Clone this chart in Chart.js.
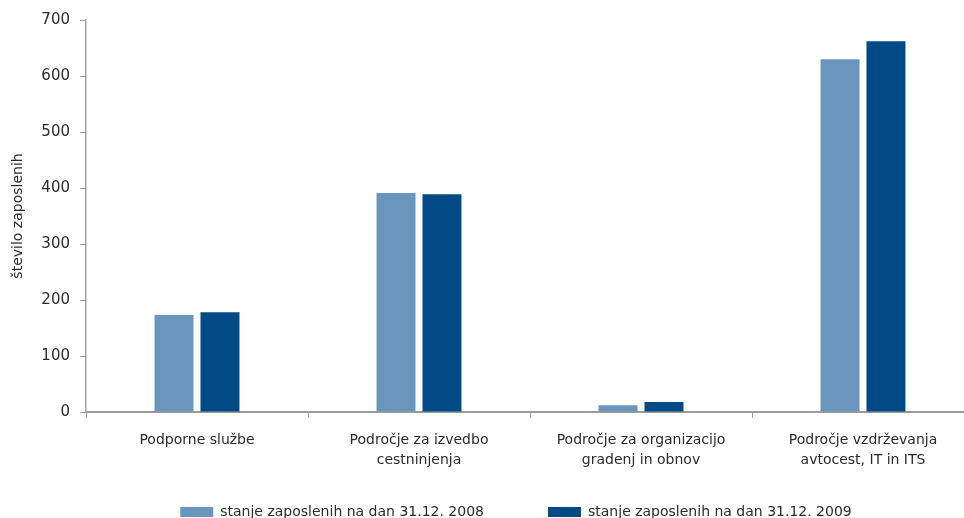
<!DOCTYPE html>
<html lang="sl">
<head>
<meta charset="UTF-8">
<title>Število zaposlenih</title>
<script src="https://cdn.jsdelivr.net/npm/chart.js@4.4.0/dist/chart.umd.min.js"></script>
<style>
  html, body { margin: 0; padding: 0; overflow: hidden; background: #fff; }
  #wrap { width: 976px; height: 565px; }
</style>
</head>
<body>
<div id="wrap"><canvas id="chart"></canvas></div>
<script>
  // data
  var categories = [
    'Podporne službe',
    ['Področje za izvedbo', 'cestninjenja'],
    ['Področje za organizacijo', 'gradenj in obnov'],
    ['Področje vzdrževanja', 'avtocest, IT in ITS']
  ];
  var seriesNames = ['stanje zaposlenih na dan 31.12. 2008', 'stanje zaposlenih na dan 31.12. 2009'];
  var values2008 = [173, 391, 12, 630];
  var values2009 = [178, 389, 18, 662];
  var yTitle = 'število zaposlenih';

  var axisGrey = '#a3a3a3';
  var textCol = '#2b2b2b';
  Chart.defaults.font.family = '"DejaVu Sans", sans-serif';
  Chart.defaults.font.size = 14;
  Chart.defaults.color = textCol;

  // legend needs wide gaps between items but sits close under the labels
  var legendNudge = {
    id: 'legendNudge',
    afterLayout: function (chart) {
      var lg = chart.legend;
      lg.top -= 36; lg.bottom -= 36;
      lg.left -= 14; lg.right -= 14;
    }
  };

  var ctx = document.getElementById('chart').getContext('2d');
  var chart = new Chart(ctx, {
    type: 'bar',
    data: {
      labels: categories,
      datasets: [{
        label: seriesNames[0],
        data: values2008,
        backgroundColor: '#6a95bd',
        borderWidth: 0,
        categoryPercentage: 0.414,
        barPercentage: 0.848
      }, {
        label: seriesNames[1],
        data: values2009,
        backgroundColor: '#014a86',
        borderWidth: 0,
        categoryPercentage: 0.414,
        barPercentage: 0.848
      }]
    },
    options: {
      responsive: true,
      maintainAspectRatio: false,
      animation: false,
      layout: { padding: { top: 20, right: 2, left: 0, bottom: 0 } },
      plugins: {
        tooltip: { enabled: false },
        legend: {
          position: 'bottom',
          fullSize: false,
          labels: {
            boxWidth: 33,
            boxHeight: 10,
            padding: 64,
            color: textCol,
            font: { size: 14 }
          }
        }
      },
      scales: {
        x: {
          grid: {
            offset: true,
            drawOnChartArea: false,
            drawTicks: true,
            tickLength: 6,
            tickColor: axisGrey
          },
          border: { color: '#9a9a9a', width: 2 },
          ticks: { padding: 13, maxRotation: 0, autoSkip: false, font: { size: 14, lineHeight: 1.4 } },
          afterFit: function (scale) { scale.height = 65; }
        },
        y: {
          min: 0,
          max: 700,
          ticks: { stepSize: 100, padding: 10, font: { size: 15 } },
          grid: {
            drawOnChartArea: false,
            drawTicks: true,
            tickLength: 6,
            tickColor: axisGrey
          },
          border: { color: axisGrey, width: 1.5 },
          title: {
            display: true,
            text: yTitle,
            color: textCol,
            font: { size: 14 },
            padding: { top: 10, bottom: 0 }
          },
          afterFit: function (scale) { scale.width = 86; }
        }
      }
    },
    plugins: [legendNudge]
  });
</script>
</body>
</html>
